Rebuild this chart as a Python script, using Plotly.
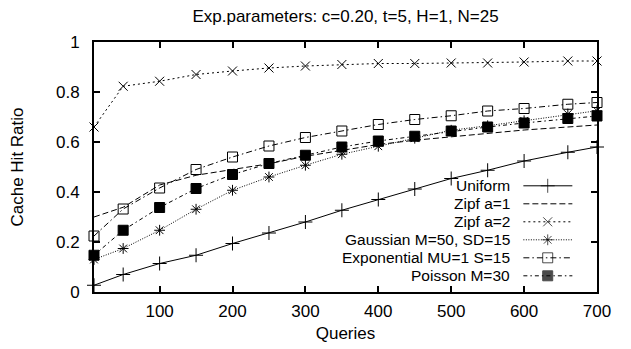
import plotly.graph_objects as go

queries = [10, 50, 100, 150, 200, 250, 300, 350, 400, 450, 500, 550, 600, 660, 700]
uniform = [0.027, 0.07, 0.114, 0.147, 0.194, 0.236, 0.28, 0.327, 0.37, 0.412, 0.454, 0.487, 0.524, 0.559, 0.58]
zipf_a1 = [0.30, 0.339, 0.428, 0.467, 0.49, 0.513, 0.543, 0.568, 0.59, 0.607, 0.62, 0.633, 0.648, 0.66, 0.668]
zipf_a2 = [0.66, 0.823, 0.843, 0.87, 0.884, 0.896, 0.904, 0.91, 0.914, 0.914, 0.916, 0.916, 0.92, 0.924, 0.924]
gaussian = [0.13, 0.174, 0.247, 0.331, 0.407, 0.46, 0.507, 0.551, 0.583, 0.615, 0.647, 0.665, 0.685, 0.712, 0.725]
exponential = [0.224, 0.332, 0.416, 0.49, 0.54, 0.584, 0.618, 0.644, 0.67, 0.69, 0.705, 0.724, 0.734, 0.751, 0.758]
poisson = [0.147, 0.247, 0.338, 0.414, 0.47, 0.514, 0.547, 0.58, 0.604, 0.623, 0.644, 0.66, 0.676, 0.694, 0.704]

names = ["Uniform", "Zipf a=1", "Zipf a=2", "Gaussian M=50, SD=15",
         "Exponential MU=1 S=15", "Poisson M=30"]
x_ticks = [100, 200, 300, 400, 500, 600, 700]
y_ticks = [0, 0.2, 0.4, 0.6, 0.8, 1]
y_ticklabels = ["0", "0.2", "0.4", "0.6", "0.8", "1"]

series = [uniform, zipf_a1, zipf_a2, gaussian, exponential, poisson]
styles = [
    dict(dash="solid", symbol="cross-thin-open", size=10),
    dict(dash="6px,3px", symbol=None, size=0),
    dict(dash="2px,3px", symbol="x-thin-open", size=9),
    dict(dash="1px,1.5px", symbol="asterisk-open", size=9),
    dict(dash="6px,3px,1.5px,3px", symbol="square-open", size=10),
    dict(dash="4px,3px,1.5px,3px", symbol="square", size=10),
]

FONT = "Liberation Sans, Arial, Helvetica, sans-serif"
FS = 17
LFS = 15.5
fig = go.Figure()

for name, ys, st in zip(names, series, styles):
    mode = "lines+markers" if st["symbol"] else "lines"
    marker = dict(symbol=st["symbol"], size=st["size"], color="black",
                  line=dict(color="black", width=1)) if st["symbol"] else None
    fig.add_trace(go.Scatter(x=queries, y=ys, mode=mode, name=name,
                             line=dict(color="black", width=1, dash=st["dash"]),
                             marker=marker, showlegend=False,
                             cliponaxis=False))

# gnuplot-style key: right-aligned text, line sample on its right
row_y = [0.4248, 0.3528, 0.2808, 0.2088, 0.1368, 0.0648]
lx0, lxm, lx1, tx = 0.8536, 0.902, 0.951, 0.831
for name, st, ry in zip(names, styles, row_y):
    mode = "lines+markers" if st["symbol"] else "lines"
    marker = dict(symbol=st["symbol"], size=[0, st["size"], 0], color="black",
                  line=dict(color="black", width=1)) if st["symbol"] else None
    fig.add_trace(go.Scatter(x=[lx0, lxm, lx1], y=[ry, ry, ry], mode=mode,
                             xaxis="x2", yaxis="y2", showlegend=False,
                             line=dict(color="black", width=1, dash=st["dash"]),
                             marker=marker, hoverinfo="skip"))
    fig.add_annotation(x=tx, y=ry, xref="paper", yref="paper", text=name,
                       showarrow=False, xanchor="right", yanchor="middle",
                       font=dict(family=FONT, size=LFS, color="black"))

axis_common = dict(showline=True, linewidth=2, linecolor="black", mirror="allticks",
                   ticks="inside", ticklen=6, tickwidth=2, tickcolor="black",
                   showgrid=False, zeroline=False, automargin=False,
                   tickfont=dict(family=FONT, size=FS, color="black"))

# page body has an 8px margin; the figure is sized/offset to compensate
fig.update_layout(
    width=623, height=341,
    margin=dict(l=85.5, r=34.3, t=33.7, b=57.3),
    paper_bgcolor="white", plot_bgcolor="white",
    font=dict(family=FONT, color="black"),
    title=dict(text="Exp.parameters: c=0.20, t=5, H=1, N=25", x=0.5, xref="paper",
               xanchor="center", y=1, yref="container", yanchor="top",
               pad=dict(t=2), font=dict(family=FONT, size=FS)),
    xaxis=dict(range=[10, 700], tickvals=x_ticks, ticklabelstandoff=3,
               title=dict(text="Queries", standoff=7, font=dict(family=FONT, size=FS)),
               **axis_common),
    yaxis=dict(range=[0, 1], tickvals=y_ticks, ticktext=y_ticklabels, ticklabelstandoff=9,
               title=dict(text="Cache Hit Ratio", standoff=35,
                          font=dict(family=FONT, size=FS)),
               **axis_common),
    xaxis2=dict(range=[0, 1], overlaying="x", visible=False, anchor="y2"),
    yaxis2=dict(range=[0, 1], overlaying="y", visible=False, anchor="x2"),
    showlegend=False,
)

fig.write_html("out.html")
